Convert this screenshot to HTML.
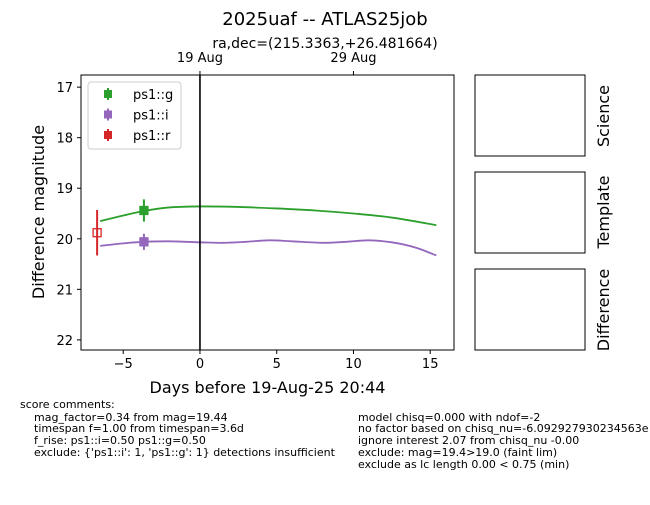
<!DOCTYPE html>
<html><head><meta charset="utf-8"><style>
body{margin:0;background:#fff;font-family:"Liberation Sans","DejaVu Sans",sans-serif;}
svg text{font-family:"DejaVu Sans","Liberation Sans",sans-serif;}
</style></head><body>
<svg id="c" width="650" height="500" xmlns="http://www.w3.org/2000/svg">
<text x="325" y="25" font-size="18" text-anchor="middle">2025uaf -- ATLAS25job</text>
<text x="325" y="48" font-size="14" text-anchor="middle">ra,dec=(215.3363,+26.481664)</text>
<g id="plot"></g>
<rect x="475" y="75" width="110" height="81" fill="none" stroke="#000"/>
<rect x="475" y="172" width="110" height="81" fill="none" stroke="#000"/>
<rect x="475" y="269" width="110" height="81" fill="none" stroke="#000"/>
<text transform="translate(609,116) rotate(-90)" font-size="16" text-anchor="middle">Science</text>
<text transform="translate(609,212) rotate(-90)" font-size="16" text-anchor="middle">Template</text>
<text transform="translate(609,310) rotate(-90)" font-size="16" text-anchor="middle">Difference</text>
<g font-size="11">
<text x="20" y="408">score comments:</text>
<text x="34" y="421">mag_factor=0.34 from mag=19.44</text>
<text x="34" y="432">timespan f=1.00 from timespan=3.6d</text>
<text x="34" y="444">f_rise: ps1::i=0.50 ps1::g=0.50</text>
<text x="34" y="456">exclude: {'ps1::i': 1, 'ps1::g': 1} detections insufficient</text>
<text x="358" y="421">model chisq=0.000 with ndof=-2</text>
<text x="358" y="432">no factor based on chisq_nu=-6.092927930234563e</text>
<text x="358" y="444">ignore interest 2.07 from chisq_nu -0.00</text>
<text x="358" y="456">exclude: mag=19.4&gt;19.0 (faint lim)</text>
<text x="358" y="468">exclude as lc length 0.00 &lt; 0.75 (min)</text>
</g>
</svg>
<script>
const xTicks=[-5,0,5,10,15];
const yTicks=[17,18,19,20,21,22];
const topTickDays=[0,10];
const topTickLabels=["19 Aug","29 Aug"];
const gCurveX=[-6.5,-5,-3.65,-2,0,2.5,5,7.5,10,12.5,15.4];
const gCurveY=[19.65,19.54,19.45,19.38,19.36,19.37,19.40,19.44,19.50,19.58,19.73];
const iCurveX=[-6.5,-5,-3.65,-2,0,1.5,3,4.5,6,8,9.5,11,12.5,14,15.4];
const iCurveY=[20.14,20.09,20.06,20.05,20.07,20.08,20.06,20.03,20.05,20.08,20.06,20.03,20.07,20.17,20.33];
const pointX=[-3.65,-3.65,-6.7];
const pointY=[19.44,20.06,19.88];
const pointErr=[0.22,0.16,0.45];
const pointColors=["#2ca02c","#9467bd","#d62728"];
const pointNames=["g","i","r"];
const L=81,R=454,T=75,B=350,xmin=-7.75,xmax=16.55,ymin=16.76,ymax=22.2;
const X=v=>L+(v-xmin)/(xmax-xmin)*(R-L);
const Y=v=>T+(v-ymin)/(ymax-ymin)*(B-T);
const NS="http://www.w3.org/2000/svg";
const g=document.getElementById('plot');
function mk(t,a,txt){const e=document.createElementNS(NS,t);for(const k in a)e.setAttribute(k,a[k]);if(txt!==undefined)e.textContent=txt;g.appendChild(e);return e;}
function smooth(xs,ys){let d='';const p=xs.map((x,i)=>[X(x),Y(ys[i])]);d='M'+p[0];for(let i=0;i<p.length-1;i++){const p0=p[i-1]||p[i],p1=p[i],p2=p[i+1],p3=p[i+2]||p2;d+=' C'+(p1[0]+(p2[0]-p0[0])/6)+','+(p1[1]+(p2[1]-p0[1])/6)+' '+(p2[0]-(p3[0]-p1[0])/6)+','+(p2[1]-(p3[1]-p1[1])/6)+' '+p2;}return d;}
let e;
e=mk('path',{d:smooth(gCurveX,gCurveY),fill:'none',stroke:'#2ca02c','stroke-width':1.8});

e=mk('path',{d:smooth(iCurveX,iCurveY),fill:'none',stroke:'#9467bd','stroke-width':1.8});

e=mk('line',{x1:X(0),x2:X(0),y1:T,y2:B,stroke:'#000','stroke-width':1.6});

pointX.forEach((px,i)=>{
 const cx=X(px),cy=Y(pointY[i]),c=pointColors[i];
 e=mk('line',{x1:cx,x2:cx,y1:Y(pointY[i]-pointErr[i]),y2:Y(pointY[i]+pointErr[i]),stroke:c,'stroke-width':2});
 
 e=mk('rect',{x:cx-4,y:cy-4,width:8,height:8,fill:i==2?'none':c,stroke:c,'stroke-width':1.3});
 
});
e=mk('rect',{x:L,y:T,width:R-L,height:B-T,fill:'none',stroke:'#000','stroke-width':1});

xTicks.forEach(t=>{const x=X(t);mk('line',{x1:x,x2:x,y1:B,y2:B+4,stroke:'#000'});
 e=mk('text',{x:x,y:B+18,'font-size':13,'text-anchor':'middle'},t<0?'\u2212'+(-t):String(t));
 });
yTicks.forEach(t=>{const y=Y(t);mk('line',{x1:L,x2:L-4,y1:y,y2:y,stroke:'#000'});
 e=mk('text',{x:L-8,y:y+5,'font-size':13,'text-anchor':'end'},String(t));
 });
topTickDays.forEach((t,i)=>{const x=X(t);mk('line',{x1:x,x2:x,y1:T,y2:T-4,stroke:'#000'});
 e=mk('text',{x:x,y:T-13,'font-size':13,'text-anchor':'middle'},topTickLabels[i]);
 });
e=mk('text',{x:(L+R)/2,y:393,'font-size':16,'text-anchor':'middle'},'Days before 19-Aug-25 20:44');

e=mk('text',{transform:'translate(44,212) rotate(-90)','font-size':16,'text-anchor':'middle'},'Difference magnitude');

e=mk('rect',{x:88,y:82,width:93,height:67,rx:3,fill:'#fff','fill-opacity':0.8,stroke:'#ccc'});

const legLabels=["ps1::g","ps1::i","ps1::r"];
legLabels.forEach((l,i)=>{const y=94+i*20.5;
 mk('line',{x1:108,x2:108,y1:y-6,y2:y+6,stroke:pointColors[i],'stroke-width':2});
 mk('rect',{x:104,y:y-4,width:8,height:8,fill:pointColors[i]});
 e=mk('text',{x:133,y:y+5,'font-size':13},l);
 });
</script>
</body></html>
